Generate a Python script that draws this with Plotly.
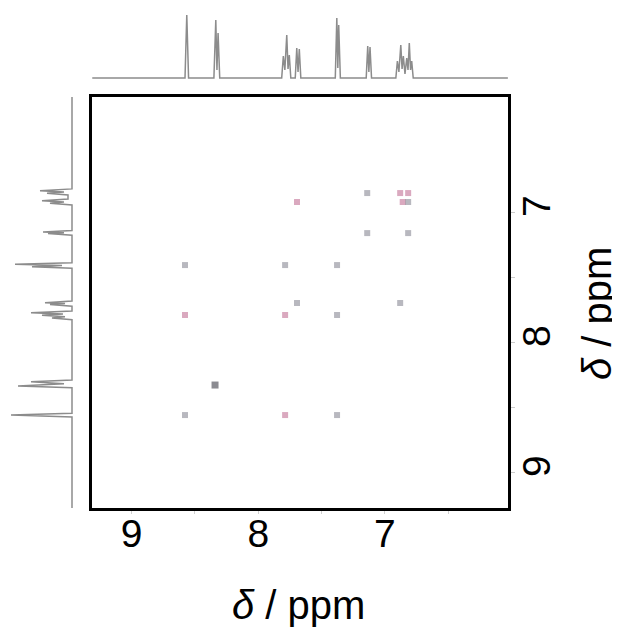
import plotly.graph_objects as go

W, H = 612, 620
OFF = 8  # page body margin of the browser

# ---- 1D projection on top (x axis): ppm and intensity (px-like units) ----
top_ppm = [9.31, 8.578, 8.564, 8.550,
           8.350, 8.335, 8.326, 8.317, 8.304,
           7.815, 7.802, 7.790, 7.775, 7.765, 7.755, 7.743,
           7.708, 7.696, 7.686, 7.676, 7.664,
           7.392, 7.380, 7.372, 7.365, 7.352,
           7.148, 7.136, 7.127, 7.118, 7.106,
           6.914, 6.902, 6.890, 6.875, 6.865, 6.855, 6.842,
           6.828, 6.818, 6.808, 6.798, 6.789, 6.777, 6.03]
top_int = [0, 0, 63, 0,
           0, 58, 8, 45, 0,
           0, 22, 8, 43, 9, 23, 0,
           0, 30, 6, 29, 0,
           0, 60, 10, 53, 0,
           0, 32, 6, 31, 0,
           0, 17, 6, 33, 9, 22, 4,
           20, 8, 35, 8, 17, 0, 0]

# ---- 1D projection on the left (y axis) ----
left_ppm = [6.115, 6.822, 6.836, 6.846, 6.856, 6.868,
            6.900, 6.913, 6.923, 6.933, 6.946,
            7.142, 7.154, 7.160, 7.166, 7.178,
            7.390, 7.402, 7.411, 7.420, 7.432,
            7.685, 7.697, 7.704, 7.711, 7.724,
            7.762, 7.774, 7.785, 7.795, 7.805, 7.815, 7.828,
            8.292, 8.305, 8.321, 8.338, 8.351,
            8.548, 8.562, 8.576, 9.277]
left_int = [0, 0, 32, 8, 25, 4,
            4, 30, 8, 22, 0,
            0, 29, 8, 24, 0,
            0, 57, 10, 40, 0,
            0, 27, 7, 22, 0,
            0, 41, 9, 30, 7, 20, 0,
            0, 41, 8, 54, 0,
            0, 61, 0, 0]

# ---- 2D cross peaks (COSY) ----
peak_x = [8.578, 7.788, 7.378, 8.578, 7.788, 7.694, 7.378, 8.341, 8.578, 7.788,
          7.378, 7.694, 7.140, 6.880, 6.817, 6.860, 6.817, 7.140, 6.817, 6.880]
peak_y = [7.408, 7.408, 7.408, 7.792, 7.792, 7.700, 7.792, 8.331, 8.562, 8.562,
          8.562, 6.923, 6.854, 6.854, 6.854, 6.923, 6.923, 7.162, 7.162, 7.700]
peak_kind = ["g", "g", "g", "m", "m", "g", "g", "d", "g", "m",
             "g", "m", "g", "m", "m", "m", "g", "g", "g", "g"]

x_ticks = [9, 8, 7]
x_ticktext = ["9", "8", "7"]
x_minor = [9, 8.5, 8, 7.5, 7, 6.5]
y_ticks = [7, 7.5, 8, 8.5, 9]
y_ticktext = ["7", "", "8", "", "9"]
axis_title = "<i>δ</i> / ppm"

x_range = [9.312, 6.029]
y_range = [9.277, 6.115]

colors = {"g": "rgba(110,110,125,0.7)", "m": "rgba(180,80,125,0.7)", "d": "rgba(60,60,70,0.85)"}
sizes = {"g": 6, "m": 6, "d": 7}

fig = go.Figure()

fig.add_trace(go.Scatter(x=top_ppm, y=top_int, mode="lines", xaxis="x", yaxis="y2",
                         line=dict(color="#8c8c8c", width=1.5), hoverinfo="skip"))
fig.add_trace(go.Scatter(x=left_int, y=left_ppm, mode="lines", xaxis="x3", yaxis="y",
                         line=dict(color="#8c8c8c", width=1.5), hoverinfo="skip"))
fig.add_trace(go.Scatter(x=peak_x, y=peak_y, mode="markers", xaxis="x", yaxis="y",
                         marker=dict(symbol="square",
                                     size=[sizes[k] for k in peak_kind],
                                     color=[colors[k] for k in peak_kind],
                                     line=dict(width=0)),
                         hoverinfo="skip"))
# invisible trace carrying the x tick-label axis
fig.add_trace(go.Scatter(x=peak_x, y=peak_y, mode="markers", xaxis="x4", yaxis="y",
                         marker=dict(size=1, opacity=0), hoverinfo="skip", showlegend=False))

def fx(px):
    return (px - OFF) / W

def fy(py):
    return 1 - (py - OFF) / H

font = "Liberation Sans, Arial, sans-serif"

fig.update_layout(
    width=W, height=H,
    margin=dict(l=0, r=0, t=0, b=0),
    paper_bgcolor="white", plot_bgcolor="white",
    showlegend=False,
    font=dict(family=font, color="black"),
    xaxis=dict(domain=[fx(92), fx(508)], range=x_range, anchor="y",
               showgrid=False, zeroline=False,
               showline=True, linecolor="black", linewidth=2.5, mirror=True,
               tickmode="array", tickvals=x_minor, showticklabels=False,
               ticks="outside", ticklen=3, tickcolor="#d0d0d0", tickwidth=1,
               automargin=False),
    xaxis4=dict(domain=[fx(92), fx(508)], range=x_range, anchor="free",
                overlaying="x", position=fy(507), side="bottom",
                showgrid=False, zeroline=False, showline=False,
                tickmode="array", tickvals=x_ticks, ticktext=x_ticktext,
                ticks="", tickfont=dict(size=39, family=font),
                automargin=False),
    yaxis=dict(domain=[fy(508), fy(97)], range=y_range, anchor="x", side="right",
               showgrid=False, zeroline=False,
               showline=True, linecolor="black", linewidth=2.5, mirror=True,
               tickmode="array", tickvals=y_ticks, ticktext=y_ticktext,
               ticks="outside", ticklen=4, tickcolor="#cccccc", tickwidth=1,
               tickangle=-90, ticklabelstandoff=-12,
               tickfont=dict(size=39, family=font),
               automargin=False),
    yaxis2=dict(domain=[fy(82), fy(8)], range=[-4, 70], anchor="x",
                visible=False, showgrid=False, zeroline=False),
    xaxis3=dict(domain=[fx(8), fx(80)], range=[64, -8], anchor="y",
                visible=False, showgrid=False, zeroline=False),
    annotations=[
        dict(text=axis_title, xref="paper", yref="paper", x=fx(298), y=fy(605),
             xanchor="center", yanchor="middle", showarrow=False,
             font=dict(size=40, family=font, color="black")),
        dict(text=axis_title, xref="paper", yref="paper", x=fx(597), y=fy(314),
             xanchor="center", yanchor="middle", showarrow=False, textangle=-90,
             font=dict(size=40, family=font, color="black")),
    ],
)

fig.write_html("out.html")
